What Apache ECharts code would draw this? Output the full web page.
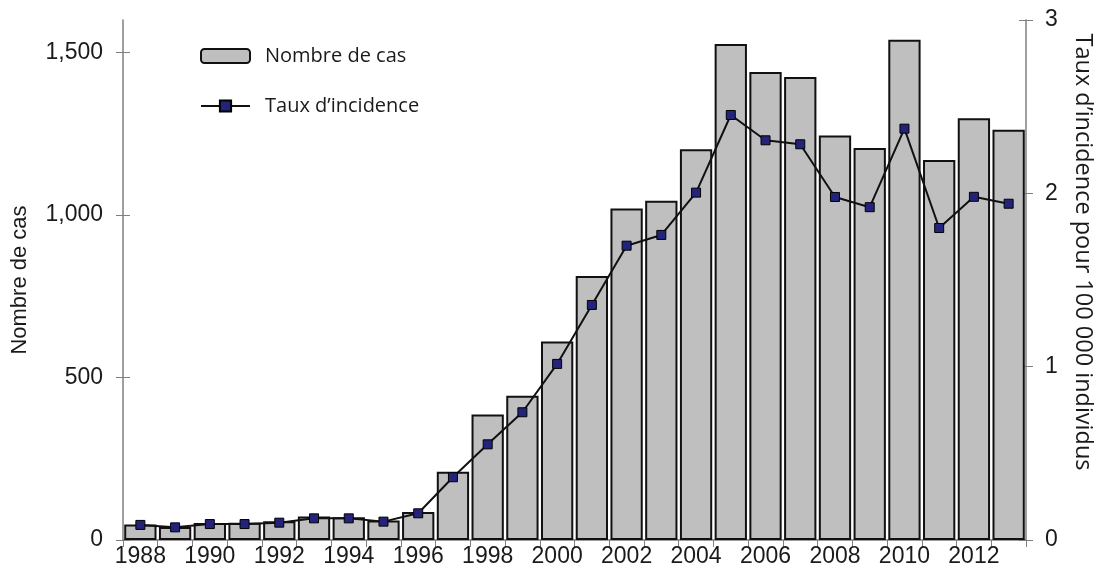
<!DOCTYPE html>
<html>
<head>
<meta charset="utf-8">
<script src="https://cdn.jsdelivr.net/npm/echarts@6/dist/echarts.min.js"></script>
<style>
  html, body { margin: 0; padding: 0; background: #fff; }
  #chart { width: 1103px; height: 579px; }
</style>
</head>
<body>
<div id="chart"></div>
<script>
const years = ['1988', '1989', '1990', '1991', '1992', '1993', '1994', '1995', '1996', '1997', '1998', '1999', '2000',
  '2001', '2002', '2003', '2004', '2005', '2006', '2007', '2008', '2009', '2010', '2011', '2012', '2013']
const cases = [48, 40, 52, 53, 58, 72, 70, 60, 86, 210, 386, 444, 611,
  812, 1020, 1044, 1202, 1526, 1440, 1425, 1245, 1206, 1539, 1169, 1298, 1262]
const incidence = [0.087, 0.073, 0.092, 0.092, 0.10, 0.125, 0.125, 0.106, 0.154, 0.362, 0.552, 0.737, 1.016,
  1.356, 1.698, 1.76, 2.004, 2.452, 2.306, 2.283, 1.979, 1.92, 2.373, 1.80, 1.98, 1.94]
const caseTicks = [0, 500, 1000, 1500]

const axisGray = '#7f7f7f'
const labelFont = { fontFamily: 'Liberation Sans', fontSize: 23, color: '#1a1a1a' }

const chart = echarts.init(document.getElementById('chart'))

// second copy of each y axis only draws the inner half of the ticks (cross ticks)
function innerTicks(side, max, interval, custom) {
  return {
    type: 'value',
    min: 0,
    max: max,
    interval: interval,
    position: side,
    splitLine: { show: false },
    axisLine: { show: false },
    axisLabel: { show: false },
    axisTick: { show: true, inside: true, length: 7, customValues: custom, lineStyle: { color: axisGray } },
  }
}

chart.setOption({
  backgroundColor: '#fff',
  animation: false,
  grid: { left: 123, right: 73, top: 20, bottom: 39 },
  legend: {
    left: 200,
    top: 46,
    padding: 0,
    orient: 'vertical',
    itemWidth: 49,
    itemHeight: 14,
    itemGap: 30,
    textStyle: { fontFamily: 'Open Sans', fontSize: 20, color: '#1a1a1a', padding: [0, 0, 0, 10] },
    data: ['Nombre de cas', 'Taux d\u2019incidence'],
  },
  xAxis: {
    type: 'category',
    data: years,
    axisLine: { lineStyle: { color: axisGray, width: 1.5 } },
    axisTick: { show: true, interval: 0, length: 7, lineStyle: { color: axisGray } },
    axisLabel: { ...labelFont, interval: 1, margin: 5 },
  },
  yAxis: [
    {
      type: 'value',
      min: 0,
      max: 1600,
      interval: 100,
      name: 'Nombre de cas',
      nameLocation: 'middle',
      nameGap: 92,
      nameTextStyle: { fontFamily: 'Liberation Sans', fontSize: 22, color: '#1a1a1a' },
      splitLine: { show: false },
      axisLine: { show: true, lineStyle: { color: axisGray, width: 1.5 } },
      axisTick: { show: true, length: 7, customValues: caseTicks, lineStyle: { color: axisGray } },
      axisLabel: {
        ...labelFont,
        margin: 20,
        customValues: caseTicks,
        formatter: (v) => v.toLocaleString('en-US'),
      },
    },
    {
      type: 'value',
      min: 0,
      max: 3,
      interval: 1,
      position: 'right',
      name: 'Taux d\u2019incidence pour 100 000 individus',
      nameLocation: 'middle',
      nameRotate: -90,
      nameGap: 45,
      nameTextStyle: { fontFamily: 'Open Sans', fontSize: 23.5, color: '#1a1a1a', padding: [0, 56, 0, 0] },
      splitLine: { show: false },
      axisLine: { show: true, lineStyle: { color: axisGray, width: 1.5 } },
      axisTick: { show: true, length: 7, lineStyle: { color: axisGray } },
      axisLabel: { ...labelFont, margin: 19 },
    },
    innerTicks('left', 1600, 100, caseTicks),
    innerTicks('right', 3, 1, [0, 1, 2, 3]),
  ],
  series: [
    {
      name: 'Nombre de cas',
      type: 'bar',
      data: cases,
      barCategoryGap: '7%',
      itemStyle: { color: '#c0bfc0', borderColor: '#111', borderWidth: 2 },
    },
    {
      name: 'Taux d\u2019incidence',
      type: 'line',
      yAxisIndex: 1,
      data: incidence,
      symbol: 'rect',
      symbolSize: 9,
      z: 5,
      lineStyle: { color: '#111', width: 2 },
      itemStyle: { color: '#23237a', borderColor: '#000', borderWidth: 1 },
    },
  ],
})

window.addEventListener('resize', () => chart.resize())
</script>
</body>
</html>
